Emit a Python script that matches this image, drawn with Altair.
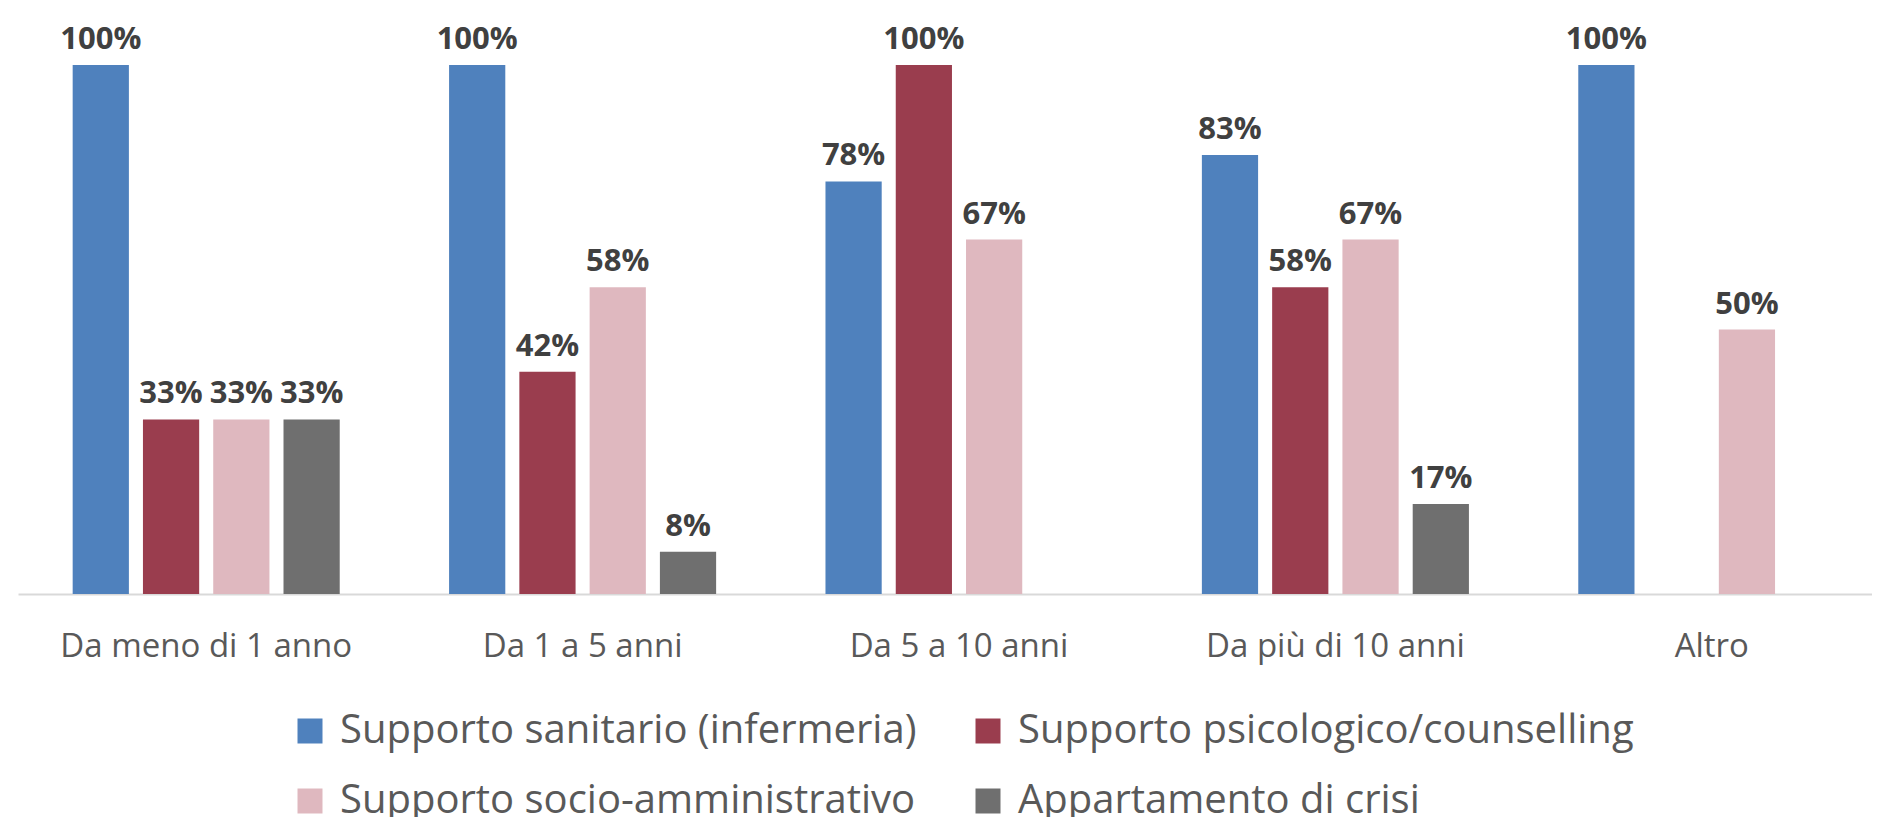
import altair as alt
import pandas as pd

groups = ["Da meno di 1 anno", "Da 1 a 5 anni", "Da 5 a 10 anni", "Da più di 10 anni", "Altro"]
series = [
    "Supporto sanitario (infermeria)",
    "Supporto psicologico/counselling",
    "Supporto socio-amministrativo",
    "Appartamento di crisi",
]
colors = ["#4F81BD", "#9A3D4E", "#DFB8BF", "#6F6F6F"]

sanitario = [100, 100, 78, 83, 100]
psicologico = [33, 42, 100, 58, None]
socio = [33, 58, 67, 67, 50]
crisi = [33, 8, None, 17, None]

rows = []
for s, vals in zip(series, [sanitario, psicologico, socio, crisi]):
    for g, v in zip(groups, vals):
        if v is not None:
            rows.append({"group": g, "series": s, "value": v, "label": f"{v}%"})
df = pd.DataFrame(rows)

FONT = "Open Sans"

x = alt.X(
    "group:N",
    sort=groups,
    scale=alt.Scale(domain=groups, paddingInner=0, paddingOuter=0, range=[0, 1882]),
    axis=alt.Axis(
        title=None, labelAngle=0, ticks=False, domainColor="#D9D9D9", domainWidth=2,
        labelFont=FONT, labelFontSize=33, labelColor="#595959", labelPadding=36,
        labelLimit=1000,
    ),
)
xo = alt.XOffset(
    "series:N", sort=series,
    scale=alt.Scale(domain=series, paddingInner=0.2, paddingOuter=0.778),
)
y = alt.Y("value:Q", scale=alt.Scale(domain=[0, 100]), axis=None)

bars = alt.Chart(df).mark_bar().encode(
    x=x, xOffset=xo, y=y,
    color=alt.Color(
        "series:N",
        scale=alt.Scale(domain=series, range=colors),
        legend=alt.Legend(
            title=None, orient="none", legendX=272, legendY=646, columns=2,
            direction="horizontal", symbolType="square", symbolSize=625,
            symbolStrokeWidth=0, labelFont=FONT, labelFontSize=40, labelColor="#595959",
            labelOffset=10, columnPadding=51, rowPadding=30, labelLimit=1000, padding=0,
        ),
    ),
)

labels = alt.Chart(df).mark_text(
    baseline="alphabetic", dy=-16, font=FONT, fontSize=31, fontWeight="bold", color="#404040"
).encode(x=x, xOffset=xo, y=y, text="label:N")

chart = (
    alt.layer(bars, labels)
    .properties(
        width=1854, height=529,
        autosize=alt.AutoSizeParams(type="none"),
        padding={"left": 10, "top": 57, "right": 0, "bottom": 223},
    )
    .configure_view(stroke=None)
)

chart.save("out.html", embed_options={"renderer": "svg", "actions": False})
